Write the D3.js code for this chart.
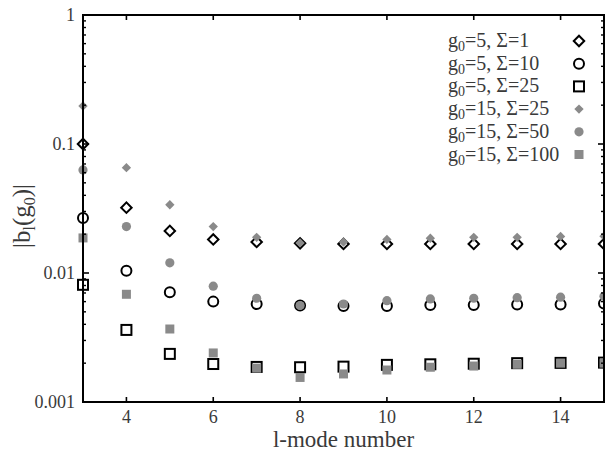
<!DOCTYPE html>
<html>
<head>
<meta charset="utf-8">
<script src="https://cdn.jsdelivr.net/npm/d3@7"></script>
<style>
  body { margin: 0; background: #fff; }
  svg { display: block; font-family: "Liberation Serif", "DejaVu Serif", serif; }
</style>
</head>
<body>
<svg id="chart"></svg>
<script>
// l-mode numbers
const modes = [3, 4, 5, 6, 7, 8, 9, 10, 11, 12, 13, 14, 15];

// |b_l(g0)|
const g5s1   = [0.100, 0.0321, 0.0212, 0.0182, 0.0174, 0.0170, 0.0168, 0.0168, 0.0168, 0.0168, 0.0168, 0.0168, 0.0168];
const g5s10  = [0.0267, 0.0104, 0.0071, 0.0060, 0.00575, 0.0056, 0.00555, 0.00555, 0.00565, 0.00565, 0.0057, 0.0057, 0.0058];
const g5s25  = [0.0081, 0.00362, 0.00236, 0.00197, 0.00187, 0.00186, 0.00188, 0.00194, 0.00196, 0.00198, 0.0020, 0.00201, 0.00202];
const g15s25 = [0.197, 0.0655, 0.0338, 0.0229, 0.0189, 0.0171, 0.0174, 0.0182, 0.0186, 0.0189, 0.0189, 0.0192, 0.0193];
const g15s50 = [0.063, 0.0229, 0.0120, 0.0079, 0.00637, 0.0056, 0.00575, 0.0061, 0.0063, 0.00637, 0.00644, 0.0065, 0.0066];
const g15s100 = [0.0187, 0.00684, 0.00368, 0.0024, 0.00183, 0.00155, 0.00165, 0.00177, 0.00186, 0.0019, 0.00196, 0.0020, 0.0020];

const xTicks = [4, 6, 8, 10, 12, 14];
const yTicks = [1, 0.1, 0.01, 0.001];
const yTickLabels = ["1", "0.1", "0.01", "0.001"];

const series = [
    { g: "5",  s: "1",   values: g5s1,   shape: "diamond", open: true },
    { g: "5",  s: "10",  values: g5s10,  shape: "circle",  open: true },
    { g: "5",  s: "25",  values: g5s25,  shape: "square",  open: true },
    { g: "15", s: "25",  values: g15s25, shape: "diamond", open: false },
    { g: "15", s: "50",  values: g15s50, shape: "circle",  open: false },
    { g: "15", s: "100", values: g15s100, shape: "square", open: false }
];

const width = 605, height = 454;
const margin = { top: 15, right: 1, bottom: 52, left: 83 };
const grey = "#8a8a8a";
const textCol = "#3a3a3a";

const svg = d3.select("#chart").attr("width", width).attr("height", height);

const x = d3.scaleLinear().domain([3, 15]).range([margin.left, width - margin.right]);
const y = d3.scaleLog().domain([0.001, 1]).range([height - margin.bottom, margin.top]);

// marker drawing
function drawMarker(sel, shape, open) {
    if (shape === "circle") {
        sel.append("circle").attr("r", open ? 5 : 4.6);
    } else if (shape === "square") {
        const a = open ? 10 : 9;
        sel.append("rect").attr("x", -a / 2).attr("y", -a / 2).attr("width", a).attr("height", a);
    } else {
        const a = open ? 7.4 : 6.6;
        sel.append("rect").attr("x", -a / 2).attr("y", -a / 2).attr("width", a).attr("height", a)
            .attr("transform", "rotate(45)");
    }
    sel.selectAll("circle,rect")
        .attr("fill", open ? "none" : grey)
        .attr("stroke", open ? "#000" : "none")
        .attr("stroke-width", open ? 2 : 0);
}

// data points (open symbols first, grey on top)
const plot = svg.append("g");
series.forEach(sr => {
    const pts = plot.append("g").selectAll("g")
        .data(modes.map((m, i) => [m, sr.values[i]]))
        .enter().append("g")
        .attr("transform", d => `translate(${x(d[0])},${y(d[1])})`);
    drawMarker(pts, sr.shape, sr.open);
});

// clip anything past the right edge by covering with white
svg.append("rect").attr("x", width - margin.right).attr("y", 0)
    .attr("width", margin.right + 5).attr("height", height).attr("fill", "#fff");

// axes: bottom/top/left/right with inward ticks
const minorY = [];
for (let e = -3; e < 0; e++) {
    for (let k = 2; k <= 9; k++) minorY.push(k * Math.pow(10, e));
}

const axes = svg.append("g").attr("stroke", "#000");
axes.append("rect")
    .attr("x", margin.left).attr("y", margin.top)
    .attr("width", x(15) - x(3)).attr("height", y(0.001) - y(1))
    .attr("fill", "none").attr("stroke-width", 2);

xTicks.forEach(t => {
    axes.append("line").attr("x1", x(t)).attr("x2", x(t))
        .attr("y1", y(0.001)).attr("y2", y(0.001) - 5).attr("stroke-width", 1.6);
    axes.append("line").attr("x1", x(t)).attr("x2", x(t))
        .attr("y1", y(1)).attr("y2", y(1) + 5).attr("stroke-width", 1.6);
});

yTicks.forEach(t => {
    axes.append("line").attr("x1", x(3)).attr("x2", x(3) + 6)
        .attr("y1", y(t)).attr("y2", y(t)).attr("stroke-width", 1.6);
    axes.append("line").attr("x1", x(15)).attr("x2", x(15) - 6)
        .attr("y1", y(t)).attr("y2", y(t)).attr("stroke-width", 1.6);
});
minorY.forEach(t => {
    axes.append("line").attr("x1", x(3)).attr("x2", x(3) + 3)
        .attr("y1", y(t)).attr("y2", y(t)).attr("stroke-width", 1.4);
    axes.append("line").attr("x1", x(15)).attr("x2", x(15) - 3)
        .attr("y1", y(t)).attr("y2", y(t)).attr("stroke-width", 1.4);
});

// tick labels
svg.append("g").selectAll("text")
    .data(xTicks).enter().append("text")
    .attr("x", d => x(d)).attr("y", y(0.001) + 21)
    .attr("text-anchor", "middle")
    .attr("font-size", 18).attr("fill", textCol)
    .text(d => d);

svg.append("g").selectAll("text")
    .data(yTicks).enter().append("text")
    .attr("x", margin.left - 8).attr("y", d => y(d) + 6)
    .attr("text-anchor", "end")
    .attr("font-size", 18).attr("fill", textCol)
    .text((d, i) => yTickLabels[i]);

// axis titles
svg.append("text")
    .attr("x", (x(3) + x(15)) / 2).attr("y", 447)
    .attr("text-anchor", "middle")
    .attr("font-size", 23).attr("fill", textCol)
    .text("l-mode number");

const yt = svg.append("text")
    .attr("transform", "translate(30,216) rotate(-90)")
    .attr("text-anchor", "middle")
    .attr("font-size", 25).attr("fill", textCol);
yt.append("tspan").text("|b");
yt.append("tspan").attr("font-size", 16).attr("dy", 5).text("l");
yt.append("tspan").attr("dy", -5).text("(g");
yt.append("tspan").attr("font-size", 16).attr("dy", 5).text("0");
yt.append("tspan").attr("dy", -5).text(")|");

// legend
const legend = svg.append("g");
series.forEach((sr, i) => {
    const cy = 41 + i * 22.7;
    const t = legend.append("text")
        .attr("x", 448).attr("y", cy + 6)
        .attr("font-size", 20).attr("fill", textCol);
    t.append("tspan").text("g");
    t.append("tspan").attr("font-size", 14).attr("dy", 4).text("0");
    t.append("tspan").attr("dy", -4).text(`=${sr.g}, \u03A3=${sr.s}`);
    const m = legend.append("g").attr("transform", `translate(579,${cy})`);
    drawMarker(m, sr.shape, sr.open);
});
</script>
</body>
</html>
